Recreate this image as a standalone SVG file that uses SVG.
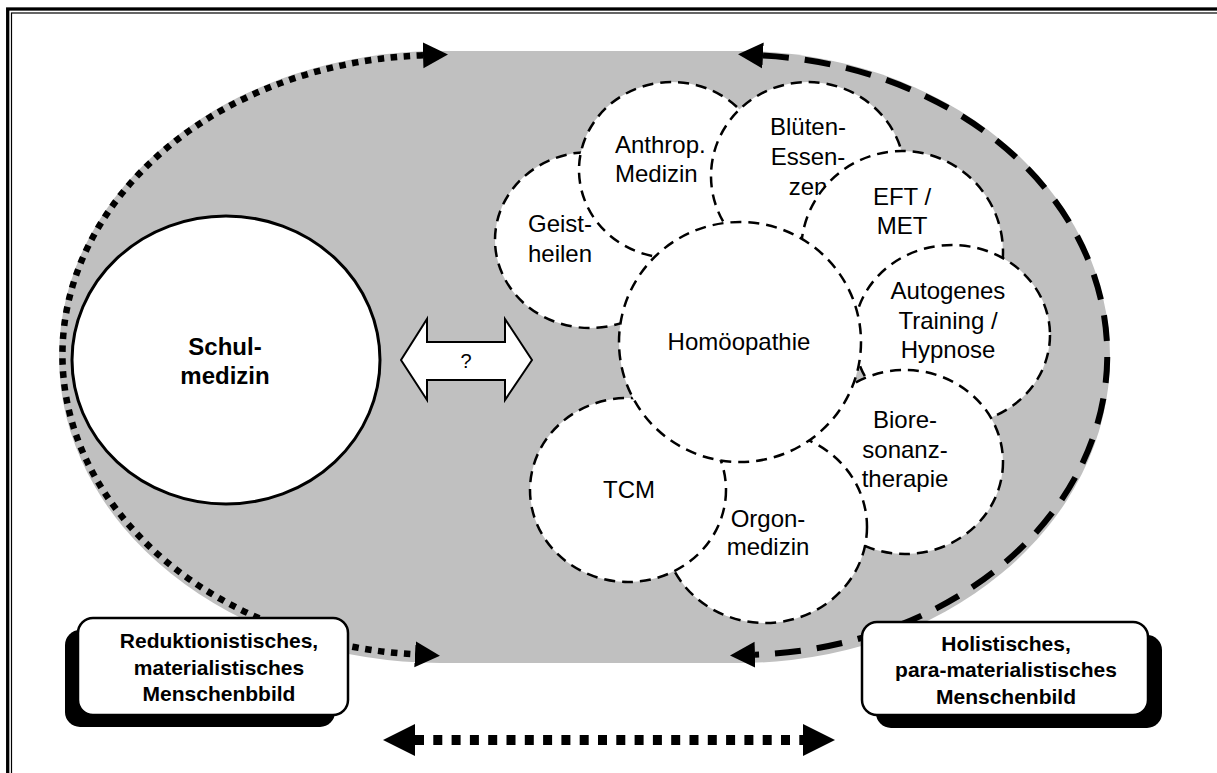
<svg xmlns="http://www.w3.org/2000/svg" width="1217" height="773" viewBox="0 0 1217 773">
<defs>
<style>
.c{fill:#fff;stroke:#000;stroke-width:2.5;stroke-dasharray:11 7}
.t{font-family:"Liberation Sans",Arial,sans-serif;font-size:24px;fill:#000;text-anchor:middle}
.s{text-anchor:start}
.b{font-weight:bold}
.l{font-family:"Liberation Sans",Arial,sans-serif;font-size:21px;font-weight:bold;fill:#000;text-anchor:middle}
.box{fill:#fff;stroke:#000;stroke-width:2.5}
.sh{fill:#000}
</style>
<marker id="ah" viewBox="0 -14 26 28" refX="0" refY="0" markerWidth="26" markerHeight="28" markerUnits="userSpaceOnUse" orient="auto-start-reverse"><path d="M0,-13 L25,0 L0,13 Z"/></marker>
<marker id="ah2" viewBox="0 -17 33 34" refX="0" refY="0" markerWidth="33" markerHeight="34" markerUnits="userSpaceOnUse" orient="auto-start-reverse"><path d="M0,-16 L32,0 L0,16 Z"/></marker>
</defs>
<rect width="1217" height="773" fill="#fff"/>
<g id="frame" fill="none" stroke="#000">
<rect x="7.7" y="9" width="1300" height="900" stroke-width="3.3"/>
<rect x="11.5" y="13" width="1300" height="900" stroke-width="1.2"/>
</g>
<g id="field">
<path d="M440,51 L740,51 A370 306 0 0 1 740,663 L440,663 A381 306 0 0 1 440,51 Z" fill="#c0c0c0"/>
</g>
<g id="connectors" fill="none" stroke="#000">
<path d="M423,55.3 A378 300 0 0 0 415,654.3" stroke-width="6.5" stroke-dasharray="6.5 6.5" marker-start="url(#ah)" marker-end="url(#ah)"/>
<path d="M763,55.6 A368 300 0 0 1 755,654.7" stroke-width="6" stroke-dasharray="26 16" marker-start="url(#ah)" marker-end="url(#ah)"/>
<path d="M415,740 L803,740" stroke-width="10" stroke-dasharray="9 9.3" marker-start="url(#ah2)" marker-end="url(#ah2)"/>
</g>
<g id="schulmedizin">
<ellipse cx="226" cy="360" rx="154" ry="144" fill="#fff" stroke="#000" stroke-width="3"/>
<text class="t b" x="225" y="355">Schul-</text>
<text class="t b" x="225" y="384">medizin</text>
</g>
<g id="question">
<polygon points="401,360 427,319 427,342 505,342 505,319 532,360 505,400 505,380 427,380 427,400" fill="#fff" stroke="#000" stroke-width="2"/>
<text x="466" y="368" font-family="Liberation Sans, Arial, sans-serif" font-size="20" text-anchor="middle">?</text>
</g>
<g id="geistheilen">
<ellipse class="c" cx="590" cy="240" rx="95" ry="88"/>
<text class="t s" x="528" y="232">Geist-</text>
<text class="t s" x="528" y="262">heilen</text>
</g>
<g id="anthrop">
<ellipse class="c" cx="672" cy="170" rx="93" ry="88"/>
<text class="t s" x="615" y="153">Anthrop.</text>
<text class="t s" x="615" y="182">Medizin</text>
</g>
<g id="blueten">
<ellipse class="c" cx="808" cy="176" rx="97" ry="94"/>
<text class="t" x="808" y="135">Blüten-</text>
<text class="t" x="808" y="165">Essen-</text>
<text class="t" x="808" y="195">zen</text>
</g>
<g id="eft">
<ellipse class="c" cx="902" cy="252" rx="101" ry="101"/>
<text class="t" x="902" y="205">EFT /</text>
<text class="t" x="902" y="234">MET</text>
</g>
<g id="autogenes">
<ellipse class="c" cx="952" cy="335" rx="98" ry="90"/>
<text class="t" x="948" y="299">Autogenes</text>
<text class="t" x="948" y="329">Training /</text>
<text class="t" x="948" y="358">Hypnose</text>
</g>
<g id="bioresonanz">
<ellipse class="c" cx="905" cy="462" rx="98" ry="92"/>
<text class="t" x="905" y="428">Biore-</text>
<text class="t" x="905" y="458">sonanz-</text>
<text class="t" x="905" y="487">therapie</text>
</g>
<g id="orgon">
<ellipse class="c" cx="765" cy="527" rx="102" ry="96"/>
<text class="t" x="768" y="527">Orgon-</text>
<text class="t" x="768" y="555">medizin</text>
</g>
<g id="tcm">
<ellipse class="c" cx="628" cy="490" rx="98" ry="92"/>
<text class="t" x="629" y="498">TCM</text>
</g>
<g id="homoeopathie">
<ellipse class="c" cx="740" cy="342" rx="121" ry="120"/>
<text class="t" x="739" y="350">Homöopathie</text>
</g>
<g id="label-left">
<rect class="sh" x="65" y="630" width="270" height="97" rx="15"/>
<rect class="box" x="78" y="618" width="270" height="97" rx="15"/>
<text class="l" x="219" y="648">Reduktionistisches,</text>
<text class="l" x="219" y="674.5">materialistisches</text>
<text class="l" x="219" y="701">Menschenbbild</text>
</g>
<g id="label-right">
<rect class="sh" x="876" y="635" width="286" height="93" rx="15"/>
<rect class="box" x="862" y="622" width="286" height="93" rx="15"/>
<text class="l" x="1006" y="651">Holistisches,</text>
<text class="l" x="1006" y="677">para-materialistisches</text>
<text class="l" x="1006" y="704">Menschenbild</text>
</g>
</svg>
